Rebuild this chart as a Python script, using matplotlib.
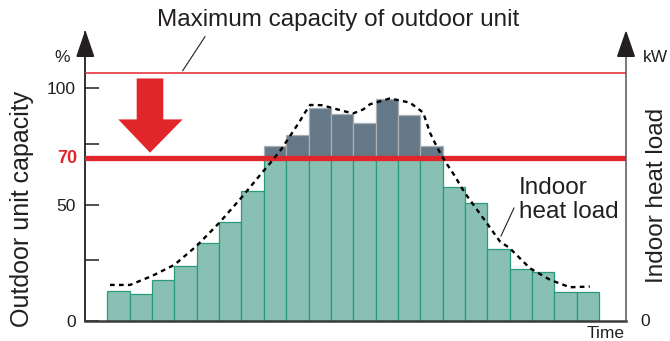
import matplotlib
matplotlib.use("Agg")
import matplotlib.pyplot as plt
from matplotlib.patches import Polygon

plt.rcParams["font.family"] = ["Liberation Sans", "DejaVu Sans"]

# Outdoor unit capacity per time slot (% of maximum)
load = [13, 11.5, 17.5, 23.5, 33.5, 42.5, 56, 75, 80, 91.5, 89, 85,
        95.5, 88.5, 75, 57.5, 50.5, 31, 22.5, 21, 12.5, 12.5]

# Indoor heat load curve (x in slot units, y in %)
curve_x = [-0.38, 0.52, 1.51, 2.5, 3.5, 4.5, 5.49, 6.48, 6.70, 7.30, 7.82,
           8.09, 8.34, 8.57, 9.09, 9.61, 10.05, 10.50, 10.95, 11.25, 12.14,
           13.04, 13.63, 13.93, 14.15, 14.38, 14.60, 15.05, 15.35, 15.65,
           16.47, 17.06, 17.50, 18.40, 19.30, 20.19, 21.08]
curve_y = [15.5, 15.5, 19.4, 24.1, 32.3, 42.1, 52.9, 64.4, 66.8, 74.0, 81.6,
           85.5, 89.5, 92.8, 92.7, 91.4, 90.2, 89.2, 90.9, 93.1, 95.6,
           93.8, 89.5, 80.9, 76.6, 72.3, 68.7, 62.2, 57.2, 52.9,
           42.1, 34.2, 31.3, 22.7, 17.7, 14.5, 14.8]

limit = 70
max_capacity = 106.6
yticks = [0, 26, 50, 76, 100]
ytick_labels = ["0", "", "50", "", "100"]

RED = "#E1262B"
TEAL = "#88C1B4"
TEAL_EDGE = "#2A9A7E"
SLATE = "#657887"
SLATE_EDGE = "#A9AEB3"
INK = "#231F20"

fig = plt.figure(figsize=(6.7, 3.41), dpi=100)
ax = fig.add_axes([85.3 / 670, 20 / 341, (626 - 85.3) / 670, (321 - 32.1) / 341])
x0, x1 = -1.484, 22.7
ax.set_xlim(x0, x1)
ax.set_ylim(0, 124.1)

xs = list(range(len(load)))
base = [min(v, limit) for v in load]
over = [max(v - limit, 0) for v in load]
ax.bar(xs, base, width=1.0, color=TEAL, edgecolor=TEAL_EDGE, linewidth=0.9, zorder=2)
ax.bar(xs, over, bottom=limit, width=1.0, color=SLATE, edgecolor=SLATE_EDGE,
       linewidth=0.9, zorder=2)

# capacity limits
ax.axhline(limit, color=RED, linewidth=3.8, zorder=3)
ax.axhline(max_capacity, color=RED, linewidth=1.1, zorder=3)

# heat load curve
ax.plot(curve_x, curve_y, color="black", linewidth=1.7, dashes=(2, 1.8),
        zorder=4, solid_capstyle="butt")

# big red arrow pointing down to the 70% line
arrow = [(0.815, 104.2), (2.004, 104.2), (2.004, 86.6), (2.87, 86.6),
         (1.41, 72.3), (-0.008, 86.6), (0.815, 86.6)]
ax.add_patch(Polygon(arrow, closed=True, color=RED, zorder=5, linewidth=0))

# axes styling
for s in ["top", "right"]:
    ax.spines[s].set_visible(False)
ax.spines["left"].set_color(INK)
ax.spines["left"].set_linewidth(1.3)
ax.spines["bottom"].set_color("#3A3A3A")
ax.spines["bottom"].set_linewidth(1.8)
ax.plot([x1, x1], [0, 113.5], color="#555555", linewidth=1.1, clip_on=False, zorder=3)

ax.set_xticks([])
ax.set_yticks(yticks)
ax.set_yticklabels(ytick_labels, fontsize=12.5, color=INK)
ax.tick_params(axis="y", direction="in", length=10, width=1.1, color=INK, pad=7)

# axis arrow heads
hw = 0.37
for xa in (x0, x1):
    ax.add_patch(Polygon([(xa - hw, 113.7), (xa + hw, 113.7), (xa, 124.1)],
                         closed=True, color=INK, clip_on=False, zorder=6))

def fx(px):
    return px / 670

def fy(py):
    return 1 - py / 341

fig.text(fx(338), fy(20), "Maximum capacity of outdoor unit", fontsize=17.5,
         ha="center", va="center", color=INK)
fig.add_artist(plt.Line2D([fx(205), fx(182.7)], [fy(36.7), fy(70.7)],
                          color=INK, linewidth=0.8))
fig.text(fx(62), fy(58), "%", fontsize=12.5, ha="center", va="center", color=INK)
fig.text(fx(655), fy(58), "kW", fontsize=12.5, ha="center", va="center", color=INK)
fig.text(fx(77), fy(158.5), "70", fontsize=13, ha="right", va="center",
         color=RED, fontweight="bold")
fig.text(fx(22), fy(209), "Outdoor unit capacity", fontsize=18, rotation=90,
         ha="center", va="center", color=INK)
fig.text(fx(657), fy(195), "Indoor heat load", fontsize=17.5, rotation=90,
         ha="center", va="center", color=INK)
fig.text(fx(645), fy(321), "0", fontsize=12.5, ha="center", va="center", color=INK)
fig.text(fx(606), fy(334), "Time", fontsize=12.5, ha="center", va="center", color=INK)
fig.text(fx(519), fy(200), "Indoor\nheat load", fontsize=17.5, ha="left",
         va="center", color=INK, linespacing=1.1)
fig.add_artist(plt.Line2D([fx(501), fx(514)], [fy(236), fy(208)],
                          color=INK, linewidth=0.8))

fig.savefig("out.png", dpi=100)
